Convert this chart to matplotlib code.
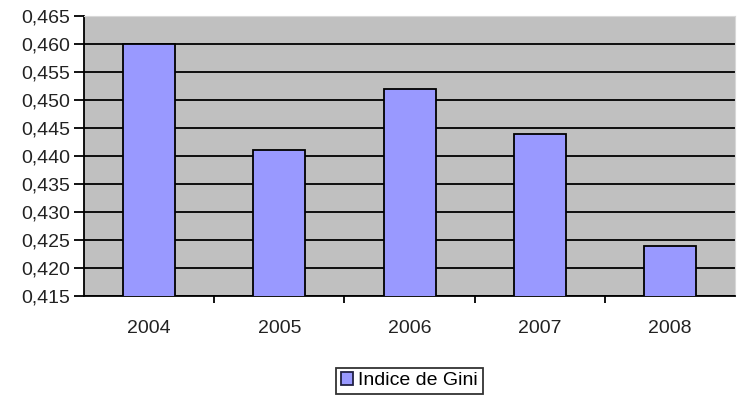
import matplotlib.pyplot as plt
from matplotlib.ticker import FixedLocator, FuncFormatter

# Data
years = ["2004", "2005", "2006", "2007", "2008"]
gini = [0.460, 0.441, 0.452, 0.444, 0.424]
yticks = [0.415, 0.420, 0.425, 0.430, 0.435, 0.440, 0.445, 0.450, 0.455, 0.460, 0.465]

plt.rcParams['font.family'] = ['Liberation Sans', 'DejaVu Sans']

fig = plt.figure(figsize=(7.38, 3.96), dpi=100)
ax = fig.add_axes([0.114, 0.2525, 0.882, 0.707])
ax.set_facecolor("#C0C0C0")

x = list(range(len(years)))
ax.bar(x, gini, width=0.4, color="#9999FF", edgecolor="black",
       linewidth=1.3, zorder=3, label="Indice de Gini")

ax.set_ylim(0.415, 0.465)
ax.set_xlim(-0.5, len(years) - 0.5)
ax.yaxis.set_major_locator(FixedLocator(yticks))
ax.yaxis.set_major_formatter(FuncFormatter(lambda v, p: f"{v:.3f}".replace(".", ",")))
ax.grid(axis="y", color="black", linewidth=1.3, zorder=1)
ax.yaxis.get_gridlines()[-1].set_visible(False)

# category labels centred, tick marks between categories
ax.set_xticks(x)
ax.set_xticklabels(years)
ax.tick_params(axis="x", length=0, pad=17, labelsize=14, colors="#222222")
ax.set_xticks([i + 0.5 for i in range(len(years) - 1)], minor=True)
ax.tick_params(axis="x", which="minor", length=5, width=1.3, color="black", direction="out")
ax.tick_params(axis="y", length=7, width=1.3, labelsize=14, colors="#222222", pad=3)
ax.tick_params(axis="y", color="black")

ax.spines["top"].set_color("#D8D8D8")
ax.spines["right"].set_color("#D8D8D8")
ax.spines["left"].set_linewidth(1.3)
ax.spines["bottom"].set_linewidth(1.3)

leg = fig.legend(loc="center", bbox_to_anchor=(0.555, 0.038), frameon=True,
                 fancybox=False, edgecolor="black", fontsize=14,
                 handlelength=0.6, handleheight=0.6, handletextpad=0.3,
                 borderpad=0.25, borderaxespad=0)
leg.get_frame().set_linewidth(1.3)
for h in leg.legend_handles:
    h.set_edgecolor("#222244")

fig.savefig("out.png", dpi=100)
